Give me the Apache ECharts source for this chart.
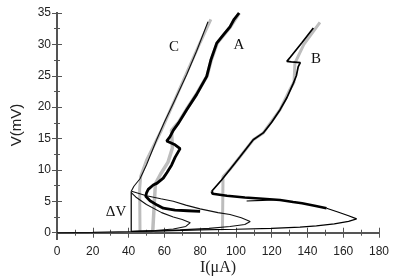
<!DOCTYPE html>
<html><head><meta charset="utf-8">
<script src="https://cdn.jsdelivr.net/npm/echarts@6/dist/echarts.min.js"></script>
<style>html,body{margin:0;padding:0;background:#fff}#c{width:399px;height:278px}</style>
</head><body><div id="c"></div>
<script>
// ---- data (I in µA, V in mV) ----
const xTicks = [0,20,40,60,80,100,120,140,160,180];
const yTicks = [0,5,10,15,20,25,30,35];
const yMinor = [2.5,7.5,12.5,17.5,22.5,27.5,32.5];
const xMinor = [10,30,50,70,90,110,130,150,170];

const curveC_up = [[41.5,6.6],[43,7.4],[46.4,8.6],[50,10.8],[55.7,14.8],[60,17.6],[65,20.6],[72.5,25.2],[78,28.9],[84.4,33.6]];
const curveC_loop = [[41.5,6.4],[44,5.7],[50,4.5],[58.5,3.2],[65,2.5],[70,2.1],[74.5,1.6],[72,1.0],[65,0.6],[55,0.35],[41.5,0.2],[20,0.05],[0,0]];
const deltaV = [[41.5,0.2],[41.5,6.6]];

const curveA_up = [[101.8,35],[99,34],[96.7,32.8],[93,31.5],[89.3,30.2],[86,27.5],[83.7,24.9],[78,22],[72.5,19.6],[68,17.5],[65,16.3],[63.2,15.3],[61.3,14.6],[66,14.0],[68.8,13.4],[66,12],[64.1,10.8],[61.5,9.6],[59.4,8.7],[56,7.9],[53.8,7.6],[51,6.9],[50.1,6.4],[49.6,5.8],[52,5.1],[56,4.4],[59.4,3.9],[66,3.6],[73,3.5],[80,3.4]];
const curveA_loop = [[41.7,6.6],[50,5.9],[58,5.4],[65,5.0],[72,4.4],[80,3.8],[90,3.2],[96.7,2.9],[103,2.4],[108,1.8],[105,1.3],[96.7,1.0],[85,0.7],[68.8,0.45],[55,0.3],[41.5,0.2]];

const curveB_up = [[143.3,32.6],[137,30.3],[130.5,28],[128.5,27.3],[131,27.2],[136,27.1],[134.8,26.4],[133.8,25],[132.1,23.8],[128.5,21.5],[124.7,19.6],[120,17.6],[115.3,15.9],[109.7,14.8],[102.3,12.1],[97,10.2],[92,8.4],[86.5,6.6]];
const curveB_mid = [[86.5,6.6],[87,6.2],[95,5.9],[105,5.6],[115,5.4],[124.7,5.2],[132,4.9],[137,4.7],[144,4.3],[150.7,3.9]];
const curveB_thin = [[106,5.05],[115,5.15],[124.7,5.3]];
const curveB_loop = [[150.7,3.9],[157,3.3],[163,2.7],[167.5,2.2],[163,1.8],[155,1.4],[145,1.1],[135.8,0.9],[120,0.7],[100,0.55],[80,0.45],[60,0.3],[41.5,0.2]];

const simC = [[46.4,0.1],[46.2,7],[46.8,9],[50,11.5],[58.5,16.4],[65,20.6],[73,25.8],[80,30.3],[86,34]];
const simA = [[53.5,0.1],[55,7.8],[58,9.4],[62,11.2],[64.5,13.5],[64,16.3],[68,17.6],[72.5,19.7],[78,22.1],[83.9,25],[86.2,27.5],[89.5,30.2],[96.9,32.8],[101.9,35]];
const simB = [[92.5,0.4],[92.8,8.9],[97,10.2],[102.3,12.1],[109.7,14.8],[115.3,15.9],[124.7,19.6],[130,22.7],[132.5,24],[133,27],[138,30],[147,33.5]];

const labels = [
  {t:'C', x:174, y:47}, {t:'A', x:239, y:45}, {t:'B', x:316, y:59}, {t:'ΔV', x:116, y:212}
];

const chart = echarts.init(document.getElementById('c'), null, {renderer:'canvas'});
const axisCol = '#555';
const tickFont = {fontFamily:'Liberation Sans, Arial, sans-serif', fontSize:12, color:'#222'};
function xa(extra){return Object.assign({type:'value',min:0,max:180,gridIndex:0,
  axisLine:{show:true,lineStyle:{color:axisCol,width:1.5}},splitLine:{show:false}},extra);}
function ya(extra){return Object.assign({type:'value',min:-1,max:35,gridIndex:0,
  axisLine:{show:true,lineStyle:{color:axisCol,width:1.8}},splitLine:{show:false}},extra);}
const line = (data,color,w,z)=>({type:'line',data,showSymbol:false,symbol:'none',silent:true,
  lineStyle:{color,width:w},z:z||3,animation:false,xAxisIndex:0,yAxisIndex:0});

chart.setOption({
  animation:false,
  grid:{left:57,right:20,top:13,bottom:39},
  xAxis:[
    xa({position:'bottom',axisTick:{inside:true,length:5,lineStyle:{color:axisCol},customValues:xTicks},
        axisLabel:Object.assign({customValues:xTicks,margin:7},tickFont)}),
    xa({position:'bottom',axisTick:{inside:true,length:3,lineStyle:{color:axisCol},customValues:xMinor},axisLabel:{show:false}}),
    xa({position:'top',axisTick:{inside:true,length:5,lineStyle:{color:axisCol},customValues:xTicks},axisLabel:{show:false}}),
    xa({position:'top',axisTick:{inside:true,length:3,lineStyle:{color:axisCol},customValues:xMinor},axisLabel:{show:false}})
  ],
  yAxis:[
    ya({position:'left',axisTick:{inside:true,length:5,lineStyle:{color:axisCol},customValues:yTicks},
        axisLabel:Object.assign({customValues:yTicks,margin:6},tickFont)}),
    ya({position:'left',axisTick:{inside:true,length:3,lineStyle:{color:axisCol},customValues:yMinor},axisLabel:{show:false}}),
    ya({position:'right',axisTick:{inside:true,length:5,lineStyle:{color:axisCol},customValues:yTicks},axisLabel:{show:false}}),
    ya({position:'right',axisTick:{inside:true,length:3,lineStyle:{color:axisCol},customValues:yMinor},axisLabel:{show:false}})
  ],
  graphic:[
    {type:'text',x:17,y:125,rotation:Math.PI/2,style:{text:'V(mV)',font:'15px Liberation Sans, Arial, sans-serif',fill:'#222',align:'center',verticalAlign:'middle'}},
    {type:'text',x:218,y:268,style:{text:'I(μA)',font:'16px Liberation Serif, Times New Roman, serif',fill:'#222',align:'center',verticalAlign:'middle'}}
  ].concat(labels.map(l=>({type:'text',x:l.x,y:l.y,style:{text:l.t,font:'15px Liberation Serif, Times New Roman, serif',fill:'#111',align:'center',verticalAlign:'middle'}}))),
  series:[
    line(simC,'#bdbdbd',3,2),
    line(simA,'#bdbdbd',3.5,2),
    line(simB,'#bdbdbd',3,2),
    line(curveC_up,'#111',1.1),
    line(curveC_loop,'#111',1.1),
    line(deltaV,'#111',1.3),
    line(curveA_loop,'#111',1.1),
    line(curveA_up,'#000',2.8),
    line(curveB_up,'#000',1.7),
    line(curveB_mid,'#000',2.6),
    line(curveB_thin,'#000',1.1),
    line(curveB_loop,'#000',1.2)
  ]
});
</script></body></html>
